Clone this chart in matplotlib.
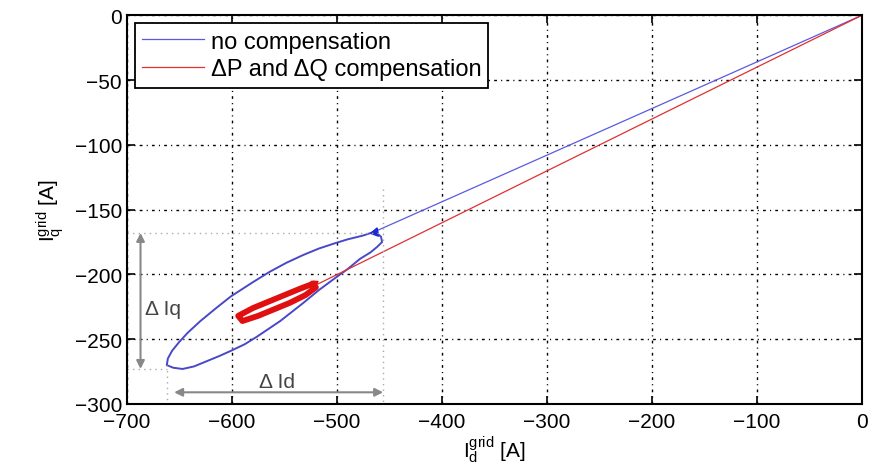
import matplotlib
matplotlib.use("Agg")
import matplotlib.pyplot as plt

plt.rcParams["font.family"] = ["Liberation Sans", "DejaVu Sans"]

# straight parts from the origin
blue_line_x = [0, -464]
blue_line_y = [0, -167]
red_line_x = [0, -522]
red_line_y = [0, -209]

# blue loop (no compensation)
blue_loop_x = [-464, -475, -490, -502, -517, -532, -548, -564, -580, -601, -615,
               -630, -642, -650, -657, -661, -662, -656, -647, -636, -624, -612,
               -601, -588, -576, -565, -554, -543, -532, -517, -502, -490, -478,
               -468, -462, -457, -458, -462]
blue_loop_y = [-167, -170, -173, -176, -180, -185, -191, -198, -206, -217, -226,
               -236, -245, -252, -259, -265, -270, -272, -273, -271, -267, -263,
               -259, -254, -248, -242, -236, -229, -222, -212, -203, -196, -188,
               -183, -179, -175, -171, -168]

# red loop (dP and dQ compensation)
red_loop_x = [-522, -535, -550, -565, -580, -594, -590, -575, -560, -545, -530, -520]
red_loop_y = [-207, -211, -216, -221, -226, -232, -236, -232, -227, -222, -216, -210]

# annotation geometry (data coords)
dq_x = -687
dq_top, dq_bot = -168, -273
dd_y = -291
dd_left, dd_right = -655, -456

xticks = [-700, -600, -500, -400, -300, -200, -100, 0]
yticks = [-300, -250, -200, -150, -100, -50, 0]

fig = plt.figure(figsize=(8.69, 4.77), dpi=100)
ax = fig.add_axes([0.146, 0.151, 0.846, 0.815])

ax.plot(blue_line_x, blue_line_y, color="#5a5ae0", lw=0.9, label="no compensation")
ax.plot(blue_loop_x, blue_loop_y, color="#4848c8", lw=1.4)
ax.plot(blue_loop_x[:1], blue_loop_y[:1], marker=(3, 0, 100), color="#1a2ad0",
        ms=7, ls="none")
ax.plot(red_line_x, red_line_y, color="#e03030", lw=0.9, label="\u0394P and \u0394Q compensation")
ax.plot(red_loop_x, red_loop_y, color="#e01010", lw=4.2, solid_capstyle="round")
ax.plot(red_loop_x[:1], red_loop_y[:1], marker=(3, 0, 60), color="#e01010",
        ms=6, ls="none")

grey = "#888888"
dots = dict(color="#aaaaaa", lw=1.0, ls=(0, (1, 3)))
ax.plot([-700, -456], [dq_top, dq_top], **dots)
ax.plot([-456, -456], [-134, -300], **dots)
ax.plot([-700, -662], [dq_bot, dq_bot], **dots)
ax.plot([-662, -662], [-270, -300], **dots)

ax.annotate("", xy=(dq_x, dq_top), xytext=(dq_x, dq_bot),
            arrowprops=dict(arrowstyle="<|-|>", color=grey, lw=1.5,
                            mutation_scale=12, shrinkA=0, shrinkB=0))
ax.annotate("", xy=(dd_left, dd_y), xytext=(dd_right, dd_y),
            arrowprops=dict(arrowstyle="<|-|>", color=grey, lw=1.5,
                            mutation_scale=12, shrinkA=0, shrinkB=0))
ax.text(-683, -226, "\u0394 Iq", fontsize=15, color="#444444", va="center", ha="left")
ax.text(-557, -283, "\u0394 Id", fontsize=15, color="#444444", va="center", ha="center")

ax.set_xlim(-700, 0)
ax.set_ylim(-300, 0)
ax.set_xticks(xticks)
ax.set_yticks(yticks)
ax.set_xticklabels(["\u2212%d" % -v if v else "0" for v in xticks])
ax.set_yticklabels(["\u2212%d" % -v if v else "0" for v in yticks])
ax.tick_params(direction="in", top=True, right=True, labelsize=15, length=6, width=1.2)
ax.tick_params(axis="x", pad=6)
ax.grid(True, color="black", lw=1.0, ls=(0, (2, 3, 0.8, 3)))
for s in ax.spines.values():
    s.set_linewidth(1.5)

ax.set_xlabel(r"$\mathregular{I_d^{grid}}$ [A]", fontsize=15, labelpad=2)
ax.set_ylabel(r"$\mathregular{I_q^{grid}}$ [A]", fontsize=15, labelpad=6)

leg = ax.legend(loc="upper left", fontsize=17, fancybox=False, framealpha=1,
                edgecolor="black", handlelength=2.6, borderpad=0.3,
                labelspacing=0.25, handletextpad=0.3, borderaxespad=0.35)
leg.get_frame().set_linewidth(1.3)

fig.savefig("out.png", dpi=100)
